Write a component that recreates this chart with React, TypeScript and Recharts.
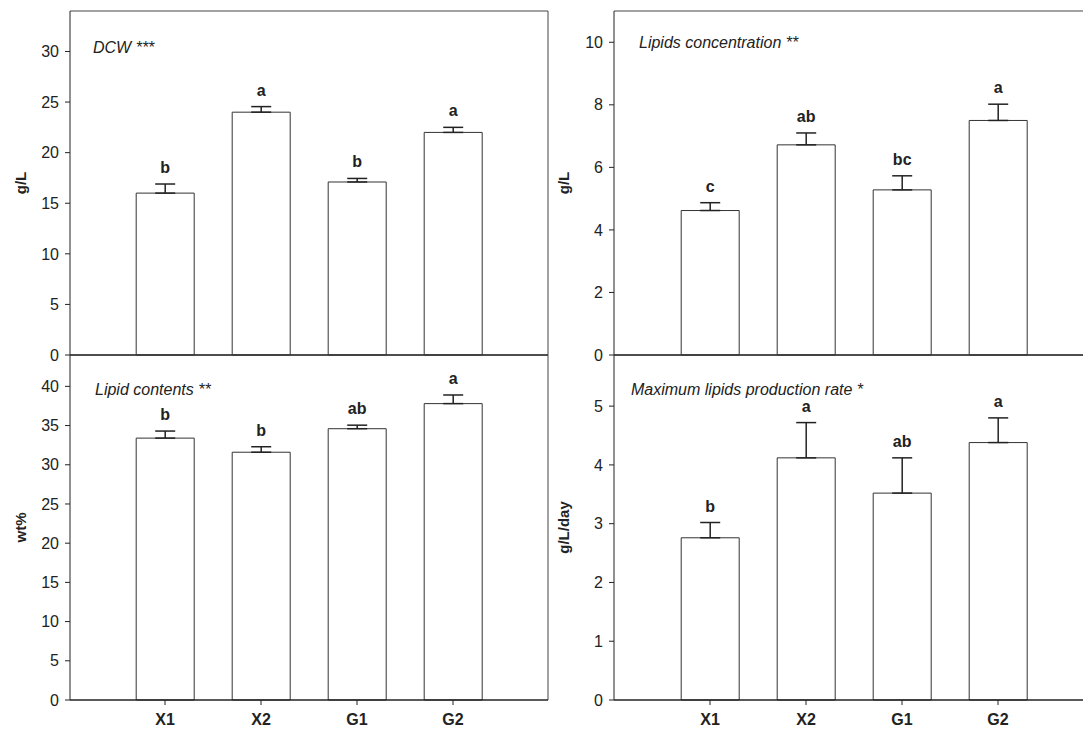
import React from "react";
import { BarChart, Bar, XAxis, YAxis, ErrorBar, LabelList, Label, CartesianGrid } from "recharts";

const groups = ["X1", "X2", "G1", "G2"];

const dcwValues = [16.0, 24.0, 17.1, 22.0];
const dcwErrors = [0.9, 0.55, 0.35, 0.5];
const dcwLetters = ["b", "a", "b", "a"];
const dcwTicks = [0, 5, 10, 15, 20, 25, 30];

const contentValues = [33.4, 31.6, 34.6, 37.8];
const contentErrors = [0.9, 0.7, 0.45, 1.1];
const contentLetters = ["b", "b", "ab", "a"];
const contentTicks = [0, 5, 10, 15, 20, 25, 30, 35, 40];

const concValues = [4.62, 6.72, 5.28, 7.5];
const concErrors = [0.25, 0.38, 0.45, 0.52];
const concLetters = ["c", "ab", "bc", "a"];
const concTicks = [0, 2, 4, 6, 8, 10];

const rateValues = [2.76, 4.12, 3.52, 4.38];
const rateErrors = [0.26, 0.6, 0.6, 0.42];
const rateLetters = ["b", "a", "ab", "a"];
const rateTicks = [0, 1, 2, 3, 4, 5];

const FONT = '"Liberation Sans", Arial, sans-serif';
const INK = "#222";

interface PanelProps {
  left: number;
  top: number;
  width: number;
  height: number;
  marginTop: number;
  xAxisHeight: number;
  yAxisWidth: number;
  pad: number;
  yLabel: string;
  yLabelX: number;
  title: string;
  titleDx: number;
  titleDy: number;
  values: number[];
  errors: number[];
  letters: string[];
  ticks: number[];
  yMax: number;
  showXLabels: boolean;
}

function Panel(p: PanelProps) {
  const rows = groups.map((name, i) => ({
    name,
    value: p.values[i],
    err: [0, p.errors[i]],
    letter: p.letters[i],
  }));

  return (
    <div style={{ position: "absolute", left: p.left, top: p.top }}>
      <BarChart
        width={p.width}
        height={p.height}
        data={rows}
        barCategoryGap="20%"
        margin={{ top: p.marginTop, right: 12, left: 0, bottom: 0 }}
      >
        {/* frame: top edge and right edge of the plot box */}
        <CartesianGrid
          stroke="#444"
          strokeWidth={1}
          horizontalCoordinatesGenerator={(g: any) => [g.offset.top]}
          verticalCoordinatesGenerator={(g: any) => [g.offset.left + g.offset.width]}
        />
        <XAxis
          dataKey="name"
          height={p.xAxisHeight}
          padding={{ left: p.pad, right: p.pad }}
          axisLine={{ stroke: INK, strokeWidth: 1.5 }}
          tickLine={{ stroke: INK }}
          tickSize={5}
          tickMargin={9}
          tick={p.showXLabels ? { fill: INK, fontSize: 16, fontWeight: "bold", fontFamily: FONT } : false}
        />
        <YAxis
          width={p.yAxisWidth}
          domain={[0, p.yMax]}
          ticks={p.ticks}
          interval={0}
          axisLine={{ stroke: INK }}
          tickLine={{ stroke: INK }}
          tickSize={5}
          tickMargin={6}
          tick={{ fill: INK, fontSize: 16, fontFamily: FONT }}
        >
          <Label
            content={(lp: any) => {
              const vb = lp.viewBox || {};
              const cx = (vb.x ?? 0) + p.yLabelX;
              const cy = (vb.y ?? 0) + (vb.height ?? 0) / 2;
              return (
                <g>
                  <text
                    x={cx}
                    y={cy}
                    transform={`rotate(-90 ${cx} ${cy})`}
                    textAnchor="middle"
                    dominantBaseline="central"
                    fontSize={15}
                    fontWeight="bold"
                    fontFamily={FONT}
                    fill={INK}
                  >
                    {p.yLabel}
                  </text>
                  <text
                    x={(vb.x ?? 0) + (vb.width ?? 0) + p.titleDx}
                    y={(vb.y ?? 0) + p.titleDy}
                    fontSize={16}
                    fontStyle="italic"
                    fontFamily={FONT}
                    fill={INK}
                  >
                    {p.title}
                  </text>
                </g>
              );
            }}
          />
        </YAxis>
        <Bar dataKey="value" fill="#fff" stroke="#333" strokeWidth={1} isAnimationActive={false}>
          <ErrorBar dataKey="err" direction="y" width={10} stroke={INK} strokeWidth={1.5} />
          <LabelList
            dataKey="letter"
            content={(lp: any) => {
              const d = rows[lp.index];
              if (!d) return null;
              const x = Number(lp.x);
              const y = Number(lp.y);
              const w = Number(lp.width);
              const h = Number(lp.height);
              const perUnit = h / d.value;
              const capY = y - p.errors[lp.index] * perUnit;
              return (
                <text
                  x={x + w / 2}
                  y={capY - 11}
                  textAnchor="middle"
                  fontSize={16}
                  fontWeight="bold"
                  fontFamily={FONT}
                  fill={INK}
                >
                  {lp.value}
                </text>
              );
            }}
          />
        </Bar>
      </BarChart>
    </div>
  );
}

export default function App() {
  return (
    <div
      style={{
        position: "absolute",
        left: 0,
        top: 0,
        width: 1083,
        height: 736,
        overflow: "hidden",
        background: "#fff",
        fontFamily: FONT,
      }}
    >
      <Panel
        left={0}
        top={0}
        width={560}
        height={370}
        marginTop={11}
        xAxisHeight={15}
        yAxisWidth={70}
        pad={47}
        yLabel="g/L"
        yLabelX={20}
        title="DCW ***"
        titleDx={23}
        titleDy={42}
        values={dcwValues}
        errors={dcwErrors}
        letters={dcwLetters}
        ticks={dcwTicks}
        yMax={34}
        showXLabels={false}
      />
      <Panel
        left={0}
        top={345}
        width={560}
        height={391}
        marginTop={10}
        xAxisHeight={36}
        yAxisWidth={70}
        pad={47}
        yLabel="wt%"
        yLabelX={20}
        title="Lipid contents **"
        titleDx={25}
        titleDy={40}
        values={contentValues}
        errors={contentErrors}
        letters={contentLetters}
        ticks={contentTicks}
        yMax={44}
        showXLabels={true}
      />
      <Panel
        left={550}
        top={0}
        width={556}
        height={370}
        marginTop={11}
        xAxisHeight={15}
        yAxisWidth={64}
        pad={48}
        yLabel="g/L"
        yLabelX={13}
        title="Lipids concentration **"
        titleDx={25}
        titleDy={37}
        values={concValues}
        errors={concErrors}
        letters={concLetters}
        ticks={concTicks}
        yMax={11}
        showXLabels={false}
      />
      <Panel
        left={550}
        top={345}
        width={556}
        height={391}
        marginTop={10}
        xAxisHeight={36}
        yAxisWidth={64}
        pad={48}
        yLabel="g/L/day"
        yLabelX={13}
        title="Maximum lipids production rate *"
        titleDx={17}
        titleDy={40}
        values={rateValues}
        errors={rateErrors}
        letters={rateLetters}
        ticks={rateTicks}
        yMax={5.87}
        showXLabels={true}
      />
    </div>
  );
}
